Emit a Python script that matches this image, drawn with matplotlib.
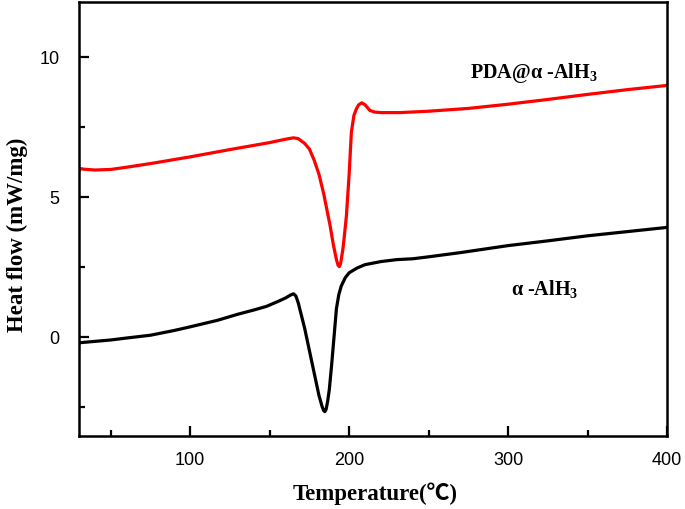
import matplotlib
matplotlib.use("Agg")
import matplotlib.pyplot as plt
from matplotlib.ticker import MultipleLocator

plt.rcParams['mathtext.fontset'] = 'custom'
plt.rcParams['mathtext.rm'] = 'Liberation Serif:bold'
plt.rcParams['mathtext.bf'] = 'Liberation Serif:bold'

# alpha-AlH3 (black)
t_al = [30, 40, 50, 60, 75, 90, 100, 117, 130, 140, 148, 155, 160, 163, 165, 166.5, 168,
        170, 172, 175, 178, 181, 183, 184, 184.7, 185.5, 186.5, 187.5, 189, 190.5, 192,
        193.5, 195, 197.5, 200, 205, 210, 220, 230, 240, 250, 270, 300, 325, 350, 375, 400]
h_al = [-0.22, -0.17, -0.12, -0.05, 0.05, 0.22, 0.35, 0.58, 0.8, 0.95, 1.08, 1.25, 1.38,
        1.48, 1.53, 1.45, 1.2, 0.75, 0.3, -0.5, -1.3, -2.1, -2.5, -2.64, -2.68, -2.6,
        -2.3, -1.9, -1.0, 0.0, 1.0, 1.5, 1.8, 2.1, 2.28, 2.45, 2.57, 2.68, 2.75, 2.78,
        2.85, 3.0, 3.25, 3.42, 3.6, 3.75, 3.9]

# PDA@alpha-AlH3 (red)
t_pda = [30, 31, 33, 40, 50, 60, 75, 100, 125, 150, 160, 165, 168, 172, 175, 178, 181,
         184, 188, 190, 192, 193, 193.8, 194.6, 196, 197, 198.3, 200, 201.4, 203, 204.6,
         206, 208, 210, 213, 216, 220, 232, 250, 275, 300, 325, 350, 375, 400]
h_pda = [5.92, 6.0, 5.98, 5.95, 5.97, 6.05, 6.18, 6.42, 6.68, 6.93, 7.05, 7.1, 7.07, 6.9,
         6.7, 6.3, 5.8, 5.1, 3.97, 3.3, 2.75, 2.55, 2.5, 2.6, 3.1, 3.6, 4.33, 5.8, 7.3,
         7.9, 8.14, 8.28, 8.35, 8.28, 8.08, 8.02, 8.0, 8.0, 8.05, 8.15, 8.3, 8.47, 8.65,
         8.82, 8.97]

fig = plt.figure(figsize=(6.85, 5.1), dpi=100)
ax = fig.add_axes([0.1153, 0.1431, 0.8584, 0.851])

ax.plot(t_al, h_al, color='black', lw=2.3, solid_joinstyle='round')
ax.plot(t_pda, h_pda, color='#ff0000', lw=2.3, solid_joinstyle='round')

ax.set_xlim(30, 400)
ax.set_ylim(-3.55, 11.95)
ax.xaxis.set_major_locator(MultipleLocator(100))
ax.xaxis.set_minor_locator(MultipleLocator(50))
ax.yaxis.set_major_locator(MultipleLocator(5))
ax.yaxis.set_minor_locator(MultipleLocator(2.5))
ax.tick_params(which='both', direction='in', width=1.6, labelsize=13)
ax.tick_params(which='major', length=7)
ax.tick_params(which='minor', length=4)
ax.tick_params(axis='y', which='major', pad=14)
ax.tick_params(axis='x', which='major', pad=11)
for lab in ax.get_xticklabels() + ax.get_yticklabels():
    lab.set_fontfamily('Liberation Sans')
for s in ax.spines.values():
    s.set_linewidth(1.8)

ax.set_xlabel('Temperature(\u2103)', family=['Liberation Serif', 'Noto Sans CJK SC'],
              fontweight='bold', fontsize=16.5)
ax.set_ylabel('Heat flow (mW/mg)', family='Liberation Serif', fontweight='bold',
              fontsize=16.5)
ax.xaxis.set_label_coords(0.503, -0.104)
ax.yaxis.set_label_coords(-0.086, 0.465)

ax.text(316, 9.45, 'PDA@\u03b1 -AlH$_3$', family='Liberation Serif', fontweight='bold',
        fontsize=14.5, ha='center', va='center')
ax.text(323, 1.7, '\u03b1 -AlH$_3$', family='Liberation Serif', fontweight='bold',
        fontsize=14.5, ha='center', va='center')

fig.savefig('out.png', dpi=100)
